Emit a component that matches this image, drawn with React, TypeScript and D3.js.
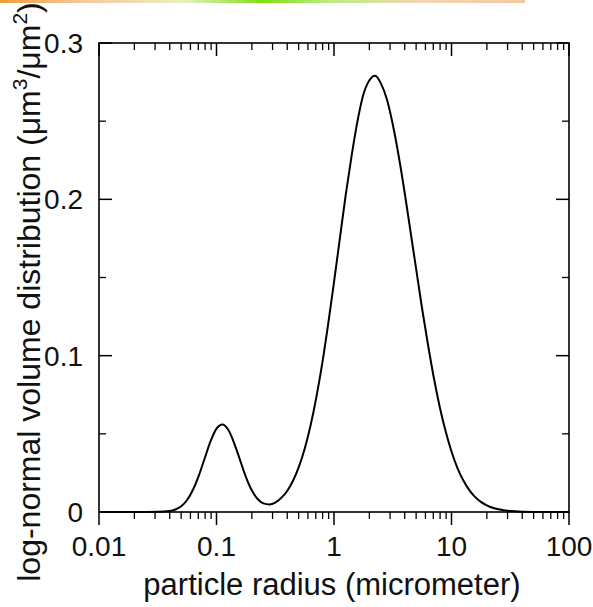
import React from "react";
import * as d3 from "d3";

const radius = [0.01, 0.0158, 0.0251, 0.0316, 0.0398, 0.0447, 0.0501, 0.0562, 0.0631, 0.0708, 0.0794, 0.0891, 0.1, 0.1122, 0.1259, 0.1413, 0.1585, 0.1778, 0.1995, 0.2239, 0.2512, 0.2818, 0.3162, 0.3548, 0.3981, 0.4467, 0.5012, 0.5623, 0.631, 0.7079, 0.7943, 0.8913, 1.0, 1.122, 1.259, 1.413, 1.585, 1.778, 1.995, 2.239, 2.512, 2.818, 3.162, 3.548, 3.981, 4.467, 5.012, 5.623, 6.31, 7.079, 7.943, 8.913, 10, 11.22, 12.59, 14.13, 15.85, 17.78, 19.95, 22.39, 25.12, 31.62, 39.81, 63.1, 100];
const volume = [0, 0, 0, 0.0001, 0.0006, 0.0016, 0.0037, 0.0077, 0.0142, 0.0234, 0.0344, 0.0453, 0.0533, 0.056, 0.0526, 0.0441, 0.0333, 0.0225, 0.0139, 0.0083, 0.0055, 0.0048, 0.006, 0.0089, 0.0133, 0.0198, 0.0287, 0.0403, 0.0552, 0.0735, 0.0951, 0.12, 0.147, 0.175, 0.203, 0.228, 0.25, 0.267, 0.276, 0.279, 0.274, 0.264, 0.248, 0.228, 0.205, 0.18, 0.155, 0.13, 0.107, 0.0857, 0.0672, 0.0516, 0.0387, 0.0283, 0.0203, 0.0142, 0.0097, 0.0065, 0.0043, 0.0027, 0.0017, 0.0006, 0.0002, 0, 0];

const xTickValues = [0.01, 0.1, 1, 10, 100];
const xTickLabels = ["0.01", "0.1", "1", "10", "100"];
const yTickValues = [0, 0.1, 0.2, 0.3];
const yTickLabels = ["0", "0.1", "0.2", "0.3"];
const yMinorValues = [0.05, 0.15, 0.25];

const W = 593, H = 607;
const L = 99, R = 569, T = 43, B = 512;
const FONT = "'Liberation Sans', Arial, Helvetica, sans-serif";

export default function App() {
  const x = d3.scaleLog().domain([0.01, 100]).range([L, R]);
  const y = d3.scaleLinear().domain([0, 0.3]).range([B, T]);
  const pts = radius.map((r, i) => [r, volume[i]] as [number, number]);
  const line = d3.line<[number, number]>().x(d => x(d[0])).y(d => y(d[1])).curve(d3.curveMonotoneX);

  const minorX: number[] = [];
  for (let e = -2; e < 2; e++) {
    for (let m = 2; m <= 9; m++) minorX.push(m * Math.pow(10, e));
  }

  return (
    <svg width={W} height={H} style={{ position: "absolute", left: 0, top: 0, background: "#fff" }} fontFamily={FONT}>
      <defs>
        <linearGradient id="topbar" x1="0" x2="1" y1="0" y2="0">
          <stop offset="0" stopColor="#f09a3a" />
          <stop offset="0.15" stopColor="#f6c79a" />
          <stop offset="0.35" stopColor="#e8f0c0" />
          <stop offset="0.5" stopColor="#7ee010" />
          <stop offset="0.62" stopColor="#b8ec80" />
          <stop offset="0.8" stopColor="#f6d6b6" />
          <stop offset="1" stopColor="#f3c8a0" />
        </linearGradient>
      </defs>
      <rect x={0} y={0} width={W} height={H} fill="#fff" />
      <rect x={0} y={0} width={525} height={3} fill="url(#topbar)" />

      <rect x={L} y={T} width={R - L} height={B - T} fill="none" stroke="#000" strokeWidth={1.6} />

      {xTickValues.map(v => (
        <g key={"xm" + v}>
          <line x1={x(v)} x2={x(v)} y1={B} y2={B + 13} stroke="#000" strokeWidth={1.5} />
          <line x1={x(v)} x2={x(v)} y1={T} y2={T + 13} stroke="#000" strokeWidth={1.5} />
        </g>
      ))}
      {minorX.map(v => (
        <g key={"xn" + v}>
          <line x1={x(v)} x2={x(v)} y1={B} y2={B + 7} stroke="#000" strokeWidth={1.3} />
          <line x1={x(v)} x2={x(v)} y1={T} y2={T + 7} stroke="#000" strokeWidth={1.3} />
        </g>
      ))}

      {yTickValues.map(v => (
        <g key={"ym" + v}>
          <line x1={L} x2={L + 13} y1={y(v)} y2={y(v)} stroke="#000" strokeWidth={1.5} />
          <line x1={R} x2={R - 13} y1={y(v)} y2={y(v)} stroke="#000" strokeWidth={1.5} />
        </g>
      ))}
      {yMinorValues.map(v => (
        <g key={"yn" + v}>
          <line x1={L} x2={L + 7} y1={y(v)} y2={y(v)} stroke="#000" strokeWidth={1.3} />
          <line x1={R} x2={R - 7} y1={y(v)} y2={y(v)} stroke="#000" strokeWidth={1.3} />
        </g>
      ))}

      {xTickValues.map((v, i) => (
        <text key={"xl" + v} x={x(v)} y={556} textAnchor="middle" fontSize={28} fill="#111">{xTickLabels[i]}</text>
      ))}
      {yTickValues.map((v, i) => (
        <text key={"yl" + v} x={83} y={y(v) + 10} textAnchor="end" fontSize={28} fill="#111">{yTickLabels[i]}</text>
      ))}

      <text x={(L + R) / 2 - 2} y={595} textAnchor="middle" fontSize={31} fill="#111">particle radius (micrometer)</text>
      <text transform={`translate(40, 292) rotate(-90)`} textAnchor="middle" fontSize={32} fill="#111">
        log-normal volume distribution (μm<tspan fontSize={21} dy={-13}>3</tspan><tspan dy={13}>/μm</tspan><tspan fontSize={21} dy={-13}>2</tspan><tspan dy={13}>)</tspan>
      </text>

      <path d={line(pts) || ""} fill="none" stroke="#000" strokeWidth={2} />
    </svg>
  );
}
